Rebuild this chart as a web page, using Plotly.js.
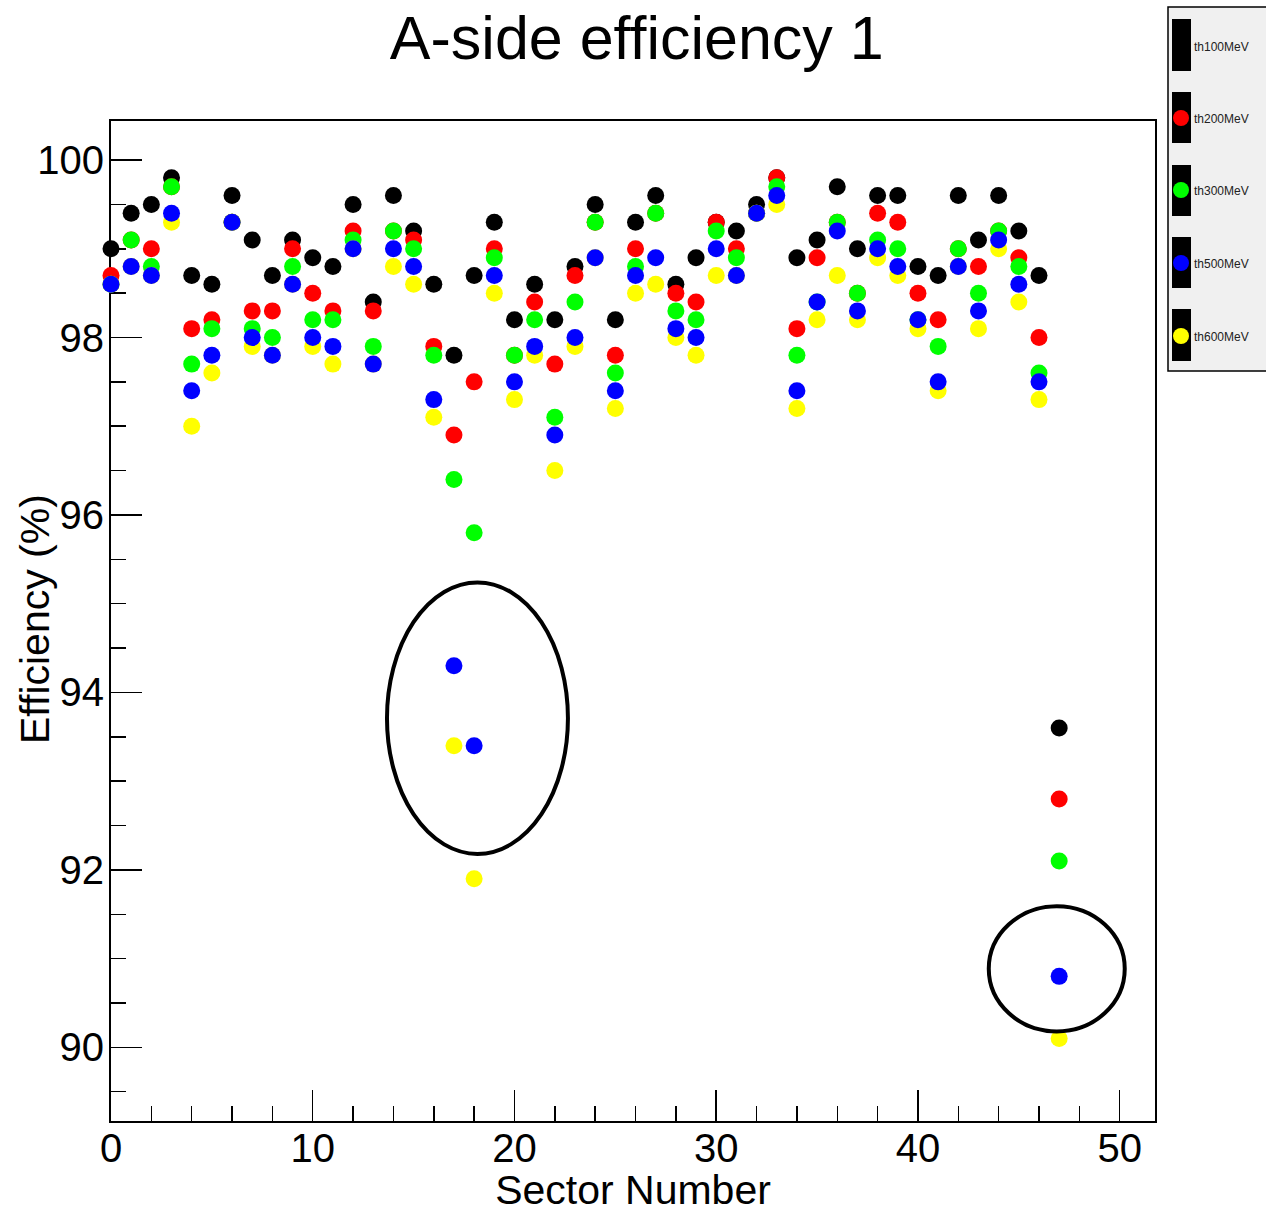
<!DOCTYPE html>
<html>
<head>
<meta charset="utf-8">
<script src="https://cdn.plot.ly/plotly-3.0.1.min.js"></script>
<style>html,body{margin:0;padding:0;background:#fff;}#chart{width:1266px;height:1213px;}</style>
</head>
<body>
<div id="chart"></div>
<script>
// ---- data ----
var sectors = [0,1,2,3,4,5,6,7,8,9,10,11,12,13,14,15,16,17,18,19,20,21,22,23,24,25,26,27,28,29,30,31,32,33,34,35,36,37,38,39,40,41,42,43,44,45,46,47];
var th100MeV = [99.0,99.4,99.5,99.8,98.7,98.6,99.6,99.1,98.7,99.1,98.9,98.8,99.5,98.4,99.6,99.2,98.6,97.8,98.7,99.3,98.2,98.6,98.2,98.8,99.5,98.2,99.3,99.6,98.6,98.9,99.3,99.2,99.5,99.8,98.9,99.1,99.7,99.0,99.6,99.6,98.8,98.7,99.6,99.1,99.6,99.2,98.7,93.6];
var th200MeV = [98.7,99.1,99.0,99.7,98.1,98.2,99.3,98.3,98.3,99.0,98.5,98.3,99.2,98.3,99.2,99.1,97.9,96.9,97.5,99.0,97.8,98.4,97.7,98.7,99.3,97.8,99.0,99.4,98.5,98.4,99.3,99.0,99.4,99.8,98.1,98.9,99.3,98.5,99.4,99.3,98.5,98.2,99.0,98.8,99.2,98.9,98.0,92.8];
var th300MeV = [98.6,99.1,98.8,99.7,97.7,98.1,99.3,98.1,98.0,98.8,98.2,98.2,99.1,97.9,99.2,99.0,97.8,96.4,95.8,98.9,97.8,98.2,97.1,98.4,99.3,97.6,98.8,99.4,98.3,98.2,99.2,98.9,99.4,99.7,97.8,98.4,99.3,98.5,99.1,99.0,98.2,97.9,99.0,98.5,99.2,98.8,97.6,92.1];
var th500MeV = [98.6,98.8,98.7,99.4,97.4,97.8,99.3,98.0,97.8,98.6,98.0,97.9,99.0,97.7,99.0,98.8,97.3,94.3,93.4,98.7,97.5,97.9,96.9,98.0,98.9,97.4,98.7,98.9,98.1,98.0,99.0,98.7,99.4,99.6,97.4,98.4,99.2,98.3,99.0,98.8,98.2,97.5,98.8,98.3,99.1,98.6,97.5,90.8];
var th600MeV = [98.6,98.8,98.7,99.3,97.0,97.6,99.3,97.9,97.8,98.6,97.9,97.7,99.0,97.7,98.8,98.6,97.1,93.4,91.9,98.5,97.3,97.8,96.5,97.9,98.9,97.2,98.5,98.6,98.0,97.8,98.7,98.7,99.4,99.5,97.2,98.2,98.7,98.2,98.9,98.7,98.1,97.4,98.8,98.1,99.0,98.4,97.3,90.1];

var seriesNames = ["th100MeV","th200MeV","th300MeV","th500MeV","th600MeV"];
var seriesColors = ["#000000","#ff0000","#00ff00","#0000ff","#ffff00"];
var seriesValues = [th100MeV, th200MeV, th300MeV, th500MeV, th600MeV];
var drawOrder = [0,1,2,4,3];

var xTickVals = [0,10,20,30,40,50];
var yTickVals = [90,92,94,96,98,100];

// ---- layout helpers ----
var W = 1266, H = 1213, L = 111, R = 111, T = 121, B = 92;
var PW = W - L - R, PH = H - T - B;
function px(x){ return (x - L) / PW; }
function py(y){ return (H - B - y) / PH; }

var traces = drawOrder.map(function(i){
  return {
    type: 'scatter', mode: 'markers', name: seriesNames[i],
    x: sectors, y: seriesValues[i],
    marker: {color: seriesColors[i], size: 17, line: {width: 0}},
    cliponaxis: false, showlegend: false, hoverinfo: 'x+y+name'
  };
});

var font = "Liberation Sans, Arial, Helvetica, sans-serif";

var shapes = [
  // highlighted ellipses
  {type:'circle', xref:'x', yref:'y', x0:13.68, x1:22.65, y0:92.18, y1:95.24, line:{color:'#000', width:4}},
  {type:'circle', xref:'x', yref:'y', x0:43.51, x1:50.25, y0:90.18, y1:91.59, line:{color:'#000', width:4}},
  // legend box
  {type:'rect', xref:'paper', yref:'paper', x0:px(1168), x1:px(1275), y0:py(371), y1:py(7), fillcolor:'#f0f0f0', line:{color:'#000', width:1.5}, layer:'above'}
];
var legRectTop = [19, 92, 165, 237, 309];
var legRectBot = [71, 143, 216, 288, 361];
var legCenter = [46, 118, 190, 263, 336];
var annotations = [];
for (var k = 0; k < seriesNames.length; k++) {
  shapes.push({type:'rect', xref:'paper', yref:'paper', x0:px(1172), x1:px(1191), y0:py(legRectBot[k]), y1:py(legRectTop[k]), fillcolor:'#000', line:{width:0}, layer:'above'});
  shapes.push({type:'circle', xref:'paper', yref:'paper', x0:px(1173), x1:px(1189), y0:py(legCenter[k]+8), y1:py(legCenter[k]-8), fillcolor:seriesColors[k], line:{width:0}, layer:'above'});
  annotations.push({xref:'paper', yref:'paper', x:px(1192), y:py(legCenter[k]+1), xanchor:'left', yanchor:'middle', text:seriesNames[k], showarrow:false, font:{family:font, size:12, color:'#222'}});
}
annotations.push({xref:'paper', yref:'paper', x:px(35), y:py(619), xanchor:'center', yanchor:'middle', textangle:-90, text:'Efficiency (%)', showarrow:false, font:{family:font, size:41, color:'#000'}});

var layout = {
  width: W, height: H,
  margin: {l: L, r: R, t: T, b: B, pad: 0},
  paper_bgcolor: '#fff', plot_bgcolor: '#fff',
  showlegend: false,
  title: {text: 'A-side efficiency 1', font: {family: font, size: 61, color: '#000'}, x: 0.503, xref: 'container', y: 1 - 38/H, yref: 'container', xanchor: 'center', yanchor: 'middle'},
  xaxis: {
    range: [0, 51.75], showgrid: false, zeroline: false,
    showline: true, linecolor: '#000', linewidth: 2, mirror: true,
    ticks: 'inside', ticklen: 31, tickwidth: 1.5, tickcolor: '#000',
    tickmode: 'array', tickvals: xTickVals, ticktext: xTickVals.map(String),
    ticklabelstandoff: -9,
    minor: {dtick: 2, tick0: 0, ticks: 'inside', ticklen: 15, tickwidth: 1.5, tickcolor: '#000', showgrid: false},
    tickfont: {family: font, size: 40, color: '#000'},
    title: {text: 'Sector Number', font: {family: font, size: 41, color: '#000'}, standoff: 16},
    layer: 'below traces', automargin: false
  },
  yaxis: {
    range: [89.17, 100.44], showgrid: false, zeroline: false,
    showline: true, linecolor: '#000', linewidth: 2, mirror: true,
    ticks: 'inside', ticklen: 31, tickwidth: 1.5, tickcolor: '#000',
    tickmode: 'array', tickvals: yTickVals, ticktext: yTickVals.map(String),
    ticklabelstandoff: -3,
    minor: {dtick: 0.5, tick0: 90, ticks: 'inside', ticklen: 15, tickwidth: 1.5, tickcolor: '#000', showgrid: false},
    tickfont: {family: font, size: 40, color: '#000'},
    layer: 'below traces', automargin: false
  },
  shapes: shapes,
  annotations: annotations
};

Plotly.newPlot('chart', traces, layout, {displayModeBar: false, staticPlot: true});
</script>
</body>
</html>
